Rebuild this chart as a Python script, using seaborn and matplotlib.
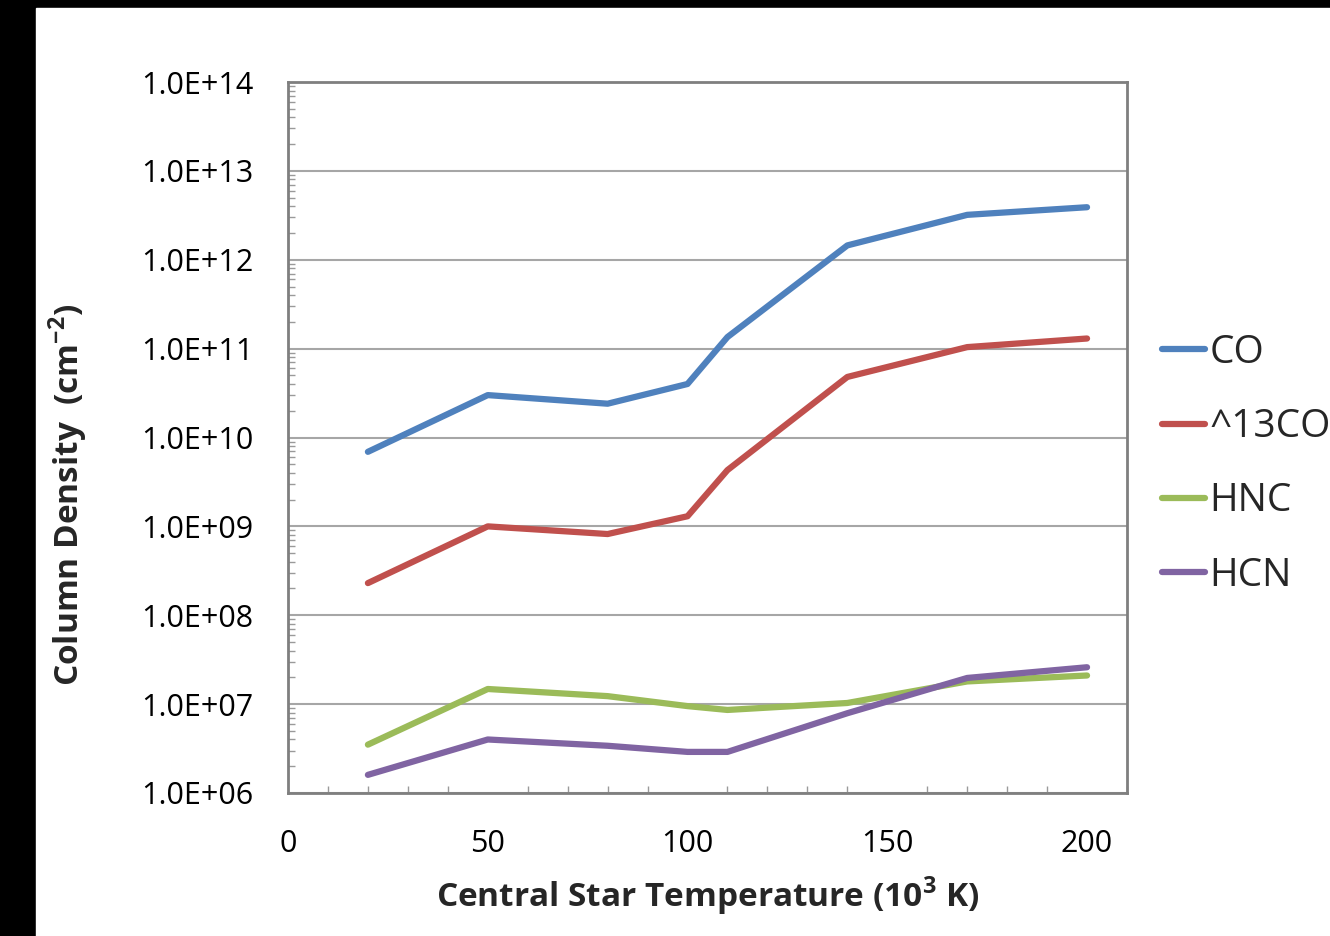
import numpy as np
import pandas as pd
import matplotlib
matplotlib.use("Agg")
import matplotlib.pyplot as plt
import matplotlib.ticker as mticker
import seaborn as sns

# Data
temperature = [20, 50, 80, 100, 110, 140, 170, 200]
co = [6.9e9, 3.0e10, 2.4e10, 4.0e10, 1.35e11, 1.45e12, 3.2e12, 3.9e12]
co13 = [2.3e8, 1.0e9, 8.2e8, 1.3e9, 4.3e9, 4.8e10, 1.04e11, 1.3e11]
hnc = [3.5e6, 1.48e7, 1.23e7, 9.5e6, 8.6e6, 1.03e7, 1.8e7, 2.1e7]
hcn = [1.6e6, 4.0e6, 3.4e6, 2.9e6, 2.9e6, 7.9e6, 1.97e7, 2.6e7]
species = ["CO", "^13CO", "HNC", "HCN"]

COLORS = ["#4F81BD", "#C0504D", "#9BBB59", "#8064A2"]

df = pd.concat([
    pd.DataFrame({"temp": temperature, "density": vals, "species": name})
    for name, vals in zip(species, [co, co13, hnc, hcn])
])

sns.set_style("white")
plt.rcParams["font.family"] = ["Open Sans", "DejaVu Sans"]
plt.rcParams.update({
    "mathtext.fontset": "custom",
    "mathtext.rm": "Open Sans",
    "mathtext.bf": "Open Sans:bold",
})

fig = plt.figure(figsize=(13.3, 9.36), dpi=100, facecolor="black")
# white canvas inside the black frame
fig.patches.append(plt.Rectangle((36 / 1330, 0), 1, (936 - 8) / 936,
                                 transform=fig.transFigure, color="white", zorder=-10))

ax = fig.add_axes([288 / 1330, 1 - 793 / 936, (1127 - 288) / 1330, (793 - 82) / 936])

sns.lineplot(data=df, x="temp", y="density", hue="species", hue_order=species,
             palette=COLORS, linewidth=4.5, ax=ax, legend=True)

ax.set_yscale("log")
ax.set_ylim(1e6, 1e14)
ax.set_xlim(0, 210)
ax.set_xticks([0, 50, 100, 150, 200])
ax.xaxis.set_minor_locator(mticker.MultipleLocator(10))
ax.yaxis.set_major_locator(mticker.LogLocator(base=10, numticks=20))
ax.yaxis.set_minor_locator(mticker.LogLocator(base=10, subs=np.arange(2, 10), numticks=20))
ax.yaxis.set_minor_formatter(mticker.NullFormatter())
ax.yaxis.set_major_formatter(mticker.FuncFormatter(lambda v, p: f"1.0E+{int(round(np.log10(v))):02d}"))

ax.grid(axis="y", which="major", color="#A6A6A6", linewidth=1.5)
for sp in ax.spines.values():
    sp.set_color("#7F7F7F")
    sp.set_linewidth(2)

ax.tick_params(axis="both", which="major", direction="in", length=8, width=1.2,
               color="#7F7F7F", labelsize=22, labelcolor="black")
ax.tick_params(axis="y", which="major", pad=25)
ax.tick_params(axis="x", which="major", pad=26)
ax.tick_params(axis="both", which="minor", direction="in", length=5, width=1,
               color="#9A9A9A")
ax.tick_params(axis="y", which="minor", left=True)
ax.tick_params(axis="x", which="minor", bottom=True)

ax.set_xlabel(r"Central Star Temperature (10$^{\mathbf{3}}$ K)", fontsize=24,
              fontweight="bold")
ax.set_ylabel(r"Column Density  (cm$^{\mathbf{-2}}$)", fontsize=24, fontweight="bold")
ax.xaxis.set_label_coords(0.5, -0.115)
ax.yaxis.set_label_coords(-0.236, 0.42)

ax.legend(loc="upper left", bbox_to_anchor=(1162 / 1330, (936 - 334) / 936),
          bbox_transform=fig.transFigure, frameon=False, fontsize=28,
          handlelength=1.1, handletextpad=0.12, labelspacing=0.93, borderpad=0,
          borderaxespad=0)
for line in ax.get_legend().get_lines():
    line.set_linewidth(4.5)

fig.savefig("out.png", dpi=100, facecolor=fig.get_facecolor())
